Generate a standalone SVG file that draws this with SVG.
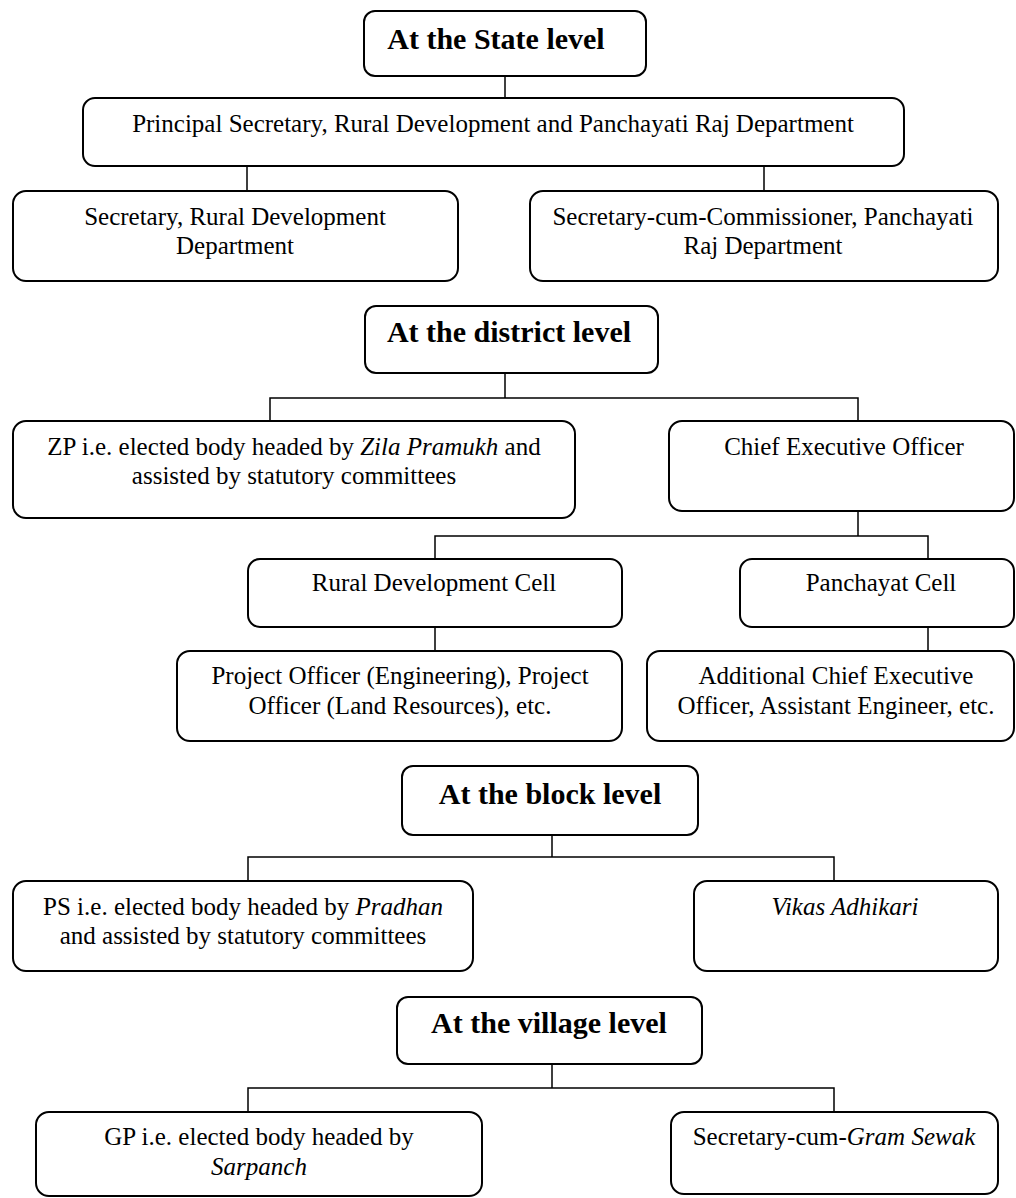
<svg xmlns="http://www.w3.org/2000/svg" width="1016" height="1198" viewBox="0 0 1016 1198">
<style>
.box{fill:#fff;stroke:#000;stroke-width:2}
.t{font-family:"Liberation Serif","Times New Roman",serif;font-size:25px;fill:#000;text-anchor:middle}
.h{font-family:"Liberation Serif","Times New Roman",serif;font-size:30px;font-weight:bold;fill:#000;text-anchor:middle}
.i{font-style:italic}
.c{fill:none;stroke:#000;stroke-width:1.5}
</style>
<rect width="1016" height="1198" fill="#fff"/>
<g id="connectors" class="c">
<path d="M505 76V98"/>
<path d="M247 166V191M764 166V191"/>
<path d="M505 373V398M270 421V398H858V421"/>
<path d="M858 511V536M435 559V536H928V559"/>
<path d="M435 627V651M928 627V651"/>
<path d="M552 835V857M248 881V857H834V881"/>
<path d="M552 1064V1088M248 1112V1088H834V1112"/>
</g>
<g id="state-level"><rect class="box" x="364" y="11" width="282" height="65" rx="11"/><text class="h" x="496" y="49">At the State level</text></g>
<g id="principal-secretary"><rect class="box" x="83" y="98" width="821" height="68" rx="12"/><text class="t" x="493" y="132">Principal Secretary, Rural Development and Panchayati Raj Department</text></g>
<g id="secretary-rd"><rect class="box" x="13" y="191" width="445" height="90" rx="13"/><text class="t" x="235" y="225">Secretary, Rural Development</text><text class="t" x="235" y="254">Department</text></g>
<g id="secretary-pr"><rect class="box" x="530" y="191" width="468" height="90" rx="13"/><text class="t" x="763" y="225">Secretary-cum-Commissioner, Panchayati</text><text class="t" x="763" y="254">Raj Department</text></g>
<g id="district-level"><rect class="box" x="365" y="306" width="293" height="67" rx="11"/><text class="h" x="509" y="342">At the district level</text></g>
<g id="zp"><rect class="box" x="13" y="421" width="562" height="97" rx="13"/><text class="t" x="294" y="455">ZP i.e. elected body headed by <tspan class="i">Zila Pramukh</tspan> and</text><text class="t" x="294" y="484">assisted by statutory committees</text></g>
<g id="ceo"><rect class="box" x="669" y="421" width="345" height="90" rx="13"/><text class="t" x="844" y="455">Chief Executive Officer</text></g>
<g id="rd-cell"><rect class="box" x="248" y="559" width="374" height="68" rx="12"/><text class="t" x="434" y="591">Rural Development Cell</text></g>
<g id="panchayat-cell"><rect class="box" x="740" y="559" width="274" height="68" rx="12"/><text class="t" x="881" y="591">Panchayat Cell</text></g>
<g id="project-officers"><rect class="box" x="177" y="651" width="445" height="90" rx="13"/><text class="t" x="400" y="684">Project Officer (Engineering), Project</text><text class="t" x="400" y="714">Officer (Land Resources), etc.</text></g>
<g id="additional-ceo"><rect class="box" x="647" y="651" width="367" height="90" rx="13"/><text class="t" x="836" y="684">Additional Chief Executive</text><text class="t" x="836" y="714">Officer, Assistant Engineer, etc.</text></g>
<g id="block-level"><rect class="box" x="402" y="766" width="296" height="69" rx="11"/><text class="h" x="550" y="804">At the block level</text></g>
<g id="ps"><rect class="box" x="13" y="881" width="460" height="90" rx="13"/><text class="t" x="243" y="915">PS i.e. elected body headed by <tspan class="i">Pradhan</tspan></text><text class="t" x="243" y="944">and assisted by statutory committees</text></g>
<g id="vikas-adhikari"><rect class="box" x="694" y="881" width="304" height="90" rx="13"/><text class="t i" x="845" y="915">Vikas Adhikari</text></g>
<g id="village-level"><rect class="box" x="397" y="997" width="305" height="67" rx="11"/><text class="h" x="549" y="1033">At the village level</text></g>
<g id="gp"><rect class="box" x="36" y="1112" width="446" height="84" rx="13"/><text class="t" x="259" y="1145">GP i.e. elected body headed by</text><text class="t i" x="259" y="1175">Sarpanch</text></g>
<g id="gram-sewak"><rect class="box" x="671" y="1112" width="327" height="82" rx="13"/><text class="t" x="834" y="1145">Secretary-cum-<tspan class="i">Gram Sewak</tspan></text></g>
</svg>
